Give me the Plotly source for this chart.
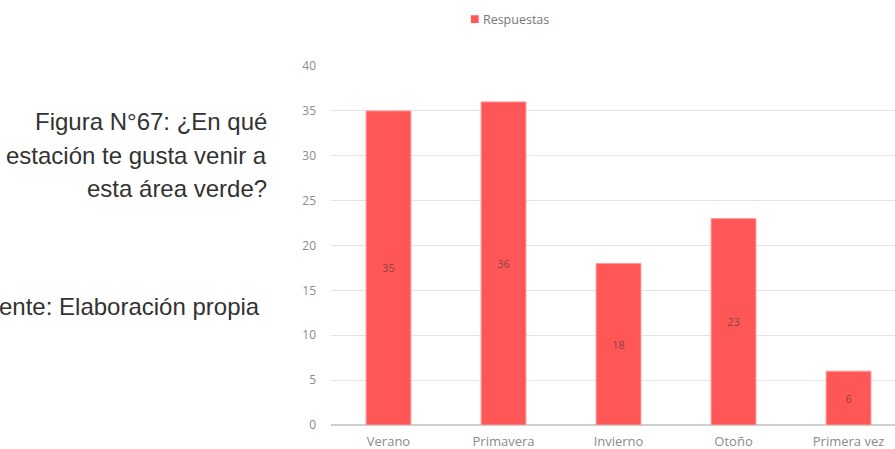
import plotly.graph_objects as go

# Survey answers: preferred season for visiting the green area
categories = ["Verano", "Primavera", "Invierno", "Otoño", "Primera vez"]
respuestas = [35, 36, 18, 23, 6]
y_ticks = [0, 5, 10, 15, 20, 25, 30, 35, 40]
series_name = "Respuestas"

bar_color = "#FF5757"

fig = go.Figure()
fig.add_trace(go.Bar(
    x=categories,
    y=respuestas,
    name=series_name,
    marker=dict(color=bar_color, line=dict(color="#ff9a9a", width=1)),
    text=[str(v) for v in respuestas],
    textposition="inside",
    insidetextanchor="middle",
    textangle=0,
    textfont=dict(family="Open Sans, sans-serif", size=11, color="#8a4444"),
    showlegend=False,
))

fig.update_layout(
    width=895,
    height=449,
    margin=dict(l=331, r=0, t=66, b=24),
    paper_bgcolor="white",
    plot_bgcolor="white",
    bargap=0.61,
    xaxis=dict(
        range=[-0.5, 4.404],
        showgrid=False,
        showline=False,
        tickfont=dict(family="Open Sans, sans-serif", size=13, color="#8a8a8a"),
        ticks="",
        ticklabelstandoff=7,
        automargin=False,
        fixedrange=True,
    ),
    yaxis=dict(
        range=[0, 40],
        tickvals=y_ticks,
        showgrid=True,
        gridcolor="#e3e3e3",
        gridwidth=1,
        zeroline=True,
        zerolinecolor="#cfcfcf",
        zerolinewidth=2,
        tickfont=dict(family="Open Sans, sans-serif", size=12, color="#8a8a8a"),
        ticks="",
        ticklabelstandoff=14,
        automargin=False,
        fixedrange=True,
    ),
)

# Series key above the plot
fig.add_annotation(
    text=f"<span style='color:{bar_color};font-size:16px'>■</span> {series_name}",
    xref="paper", yref="paper",
    x=(468 - 331) / (895 - 331), y=1 - (18 - 66) / (425 - 66),
    xanchor="left", yanchor="middle",
    showarrow=False,
    font=dict(family="Open Sans, sans-serif", size=12.5, color="#777777"),
)

# Caption block to the left of the chart
caption_lines = ["Figura N°67: ¿En qué", "estación te gusta venir a", "esta área verde?"]
caption_y = [121, 155, 188]
for line, ypx in zip(caption_lines, caption_y):
    fig.add_annotation(
        text=line,
        xref="paper", yref="paper",
        x=(269 - 331) / (895 - 331), y=1 - (ypx - 66) / (425 - 66),
        xanchor="right", yanchor="middle",
        showarrow=False,
        font=dict(family="Liberation Sans, Arial, sans-serif", size=24, color="#333333"),
    )

fig.add_annotation(
    text="Fuente: Elaboración propia",
    xref="paper", yref="paper",
    x=(262 - 331) / (895 - 331), y=1 - (306 - 66) / (425 - 66),
    xanchor="right", yanchor="middle",
    showarrow=False,
    font=dict(family="Liberation Sans, Arial, sans-serif", size=24, color="#333333"),
)

fig.write_html("out.html", config={"displayModeBar": False})
